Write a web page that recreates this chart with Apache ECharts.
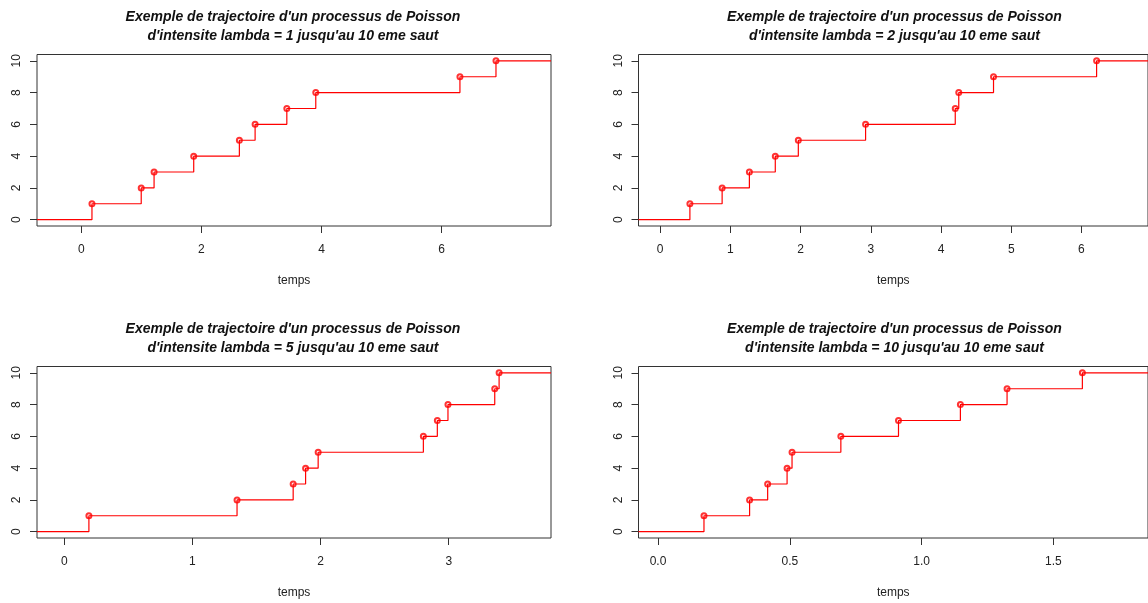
<!DOCTYPE html>
<html>
<head>
<meta charset="utf-8">
<script src="https://cdn.jsdelivr.net/npm/echarts@6/dist/echarts.min.js"></script>
<style>
html,body{margin:0;padding:0;background:#fff;}
#chart{width:1148px;height:603px;}
</style>
</head>
<body>
<div id="chart"></div>
<script>
// ---- data ----
const lambdas = [1, 2, 5, 10];
const counts = [1, 2, 3, 4, 5, 6, 7, 8, 9, 10];
const jumps1 = [0.178, 0.998, 1.212, 1.872, 2.632, 2.894, 3.422, 3.904, 6.304, 6.904];
const jumps2 = [0.424, 0.883, 1.271, 1.640, 1.968, 2.926, 4.203, 4.253, 4.748, 6.216];
const jumps5 = [0.192, 1.348, 1.786, 1.883, 1.981, 2.802, 2.911, 2.994, 3.359, 3.393];
const jumps10 = [0.1744, 0.3475, 0.416, 0.4897, 0.5085, 0.6937, 0.9124, 1.1472, 1.3243, 1.610];
const xlim1 = [-0.737, 7.82];
const xlim2 = [-0.308, 6.948];
const xlim5 = [-0.213, 3.798];
const xlim10 = [-0.074, 1.859];
const xticks1 = [0, 2, 4, 6];
const xticks2 = [0, 1, 2, 3, 4, 5, 6];
const xticks5 = [0, 1, 2, 3];
const xticks10 = [0, 0.5, 1.0, 1.5];
const yticks = [0, 2, 4, 6, 8, 10];
const ylim = [-0.4, 10.4];
const xName = 'temps';

const panels = [
  {lambda: lambdas[0], jumps: jumps1, xlim: xlim1, xticks: xticks1, dec: 0},
  {lambda: lambdas[1], jumps: jumps2, xlim: xlim2, xticks: xticks2, dec: 0},
  {lambda: lambdas[2], jumps: jumps5, xlim: xlim5, xticks: xticks5, dec: 0},
  {lambda: lambdas[3], jumps: jumps10, xlim: xlim10, xticks: xticks10, dec: 1}
];

// layout
const boxes = [
  {left: 37, top: 54.5},
  {left: 638.5, top: 54.5},
  {left: 37, top: 366.5},
  {left: 638.5, top: 366.5}
];
const BW = 514, BH = 171.5;
const RED = '#ff0000';
const AX = '#222';
const FONT = 'Liberation Sans, Arial, sans-serif';

const option = {
  animation: false,
  backgroundColor: '#fff',
  title: [], grid: [], xAxis: [], yAxis: [], series: []
};

panels.forEach((p, i) => {
  const b = boxes[i];
  option.title.push({
    text: "Exemple de trajectoire d'un processus de Poisson\nd'intensite lambda = " + p.lambda + " jusqu'au 10 eme saut",
    left: b.left + BW / 2 - 1, top: b.top - 47, textAlign: 'center', padding: 0,
    textStyle: {fontFamily: FONT, fontSize: 14, fontWeight: 'bold', fontStyle: 'italic', color: '#111', lineHeight: 19}
  });
  option.grid.push({left: b.left, top: b.top, width: BW, height: BH, show: true,
    borderColor: '#333', borderWidth: 1, backgroundColor: 'transparent', containLabel: false});
  option.xAxis.push({
    type: 'value', gridIndex: i, min: p.xlim[0], max: p.xlim[1], position: 'bottom',
    name: xName, nameLocation: 'middle', nameGap: 49,
    nameTextStyle: {fontFamily: FONT, fontSize: 12, color: AX},
    axisLine: {show: false, onZero: false},
    axisTick: {show: true, inside: false, length: 7, customValues: p.xticks, lineStyle: {color: '#333', width: 1}},
    axisLabel: {show: true, customValues: p.xticks, margin: 18, fontFamily: FONT, fontSize: 12, color: AX,
      formatter: v => Number(v).toFixed(p.dec)},
    splitLine: {show: false}
  });
  option.yAxis.push({
    type: 'value', gridIndex: i, min: ylim[0], max: ylim[1], position: 'left',
    axisLine: {show: false, onZero: false},
    axisTick: {show: true, inside: false, length: 7, customValues: yticks, lineStyle: {color: '#333', width: 1}},
    axisLabel: {show: true, customValues: yticks, rotate: 90, margin: 14, fontFamily: FONT, fontSize: 12, color: AX},
    splitLine: {show: false}
  });
  const lineData = [[p.xlim[0], 0]];
  p.jumps.forEach((t, k) => lineData.push([t, counts[k]]));
  lineData.push([p.xlim[1], counts[counts.length - 1]]);
  option.series.push({
    type: 'line', xAxisIndex: i, yAxisIndex: i, step: 'end', data: lineData,
    showSymbol: false, symbol: 'none', clip: true,
    lineStyle: {color: RED, width: 1.2}, silent: true
  });
  option.series.push({
    type: 'scatter', xAxisIndex: i, yAxisIndex: i,
    data: p.jumps.map((t, k) => [t, counts[k]]),
    symbol: 'emptyCircle', symbolSize: 5,
    itemStyle: {color: RED, borderColor: RED, borderWidth: 1}, silent: true
  });
});

const chart = echarts.init(document.getElementById('chart'), null, {renderer: 'canvas'});
chart.setOption(option);
</script>
</body>
</html>
